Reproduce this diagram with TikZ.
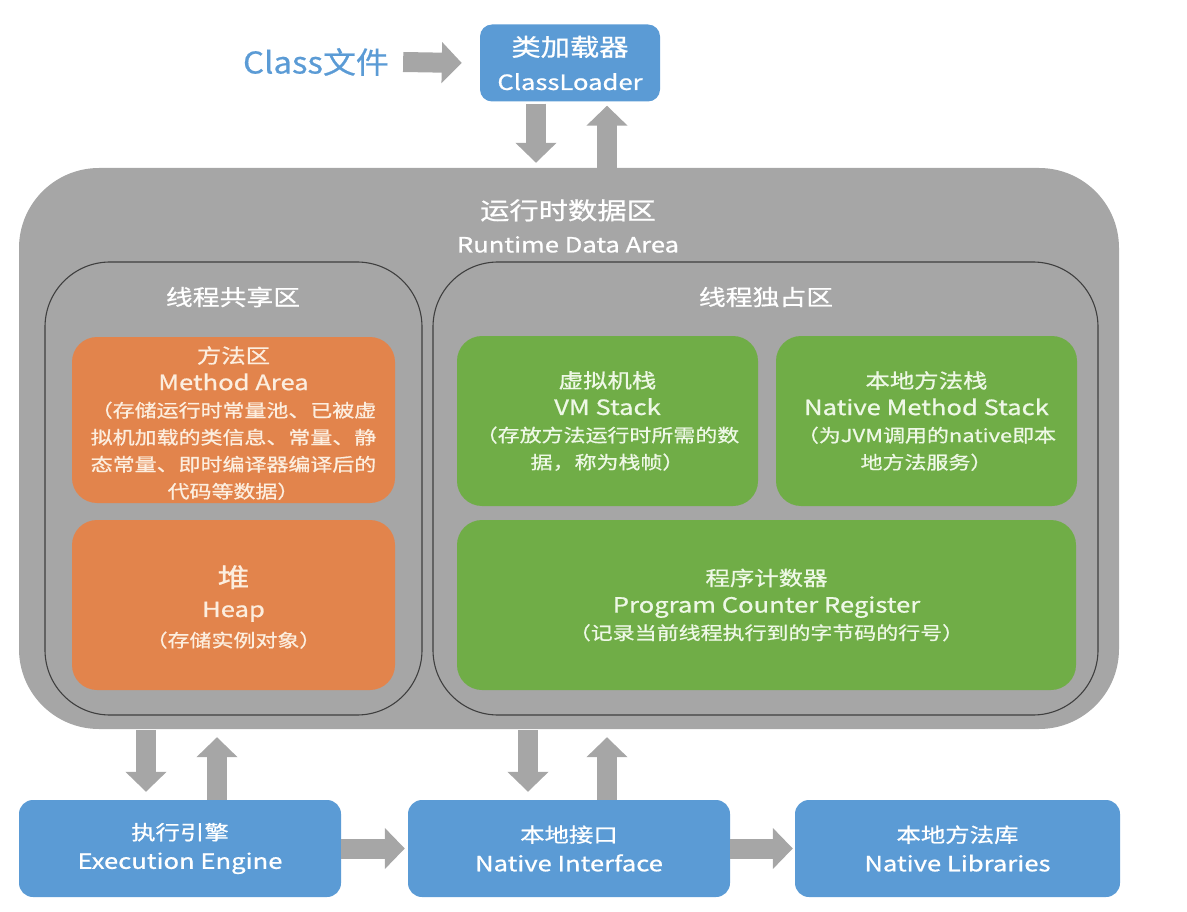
\documentclass[tikz,border=0pt]{standalone}
\usepackage{fontspec}
\setmainfont{Noto Sans CJK SC}
\newfontfamily\bxfont[FakeStretch=1.22,FakeBold=0.8]{Noto Sans CJK SC}
\newfontfamily\clsfont[FakeStretch=1.1,FakeBold=0.6]{Noto Sans CJK SC}
\usetikzlibrary{arrows.meta,calc}
\newcommand\fz[2]{\fontsize{#1}{#2}\selectfont}
\definecolor{rdagrey}{HTML}{A6A6A6}
\definecolor{arrowgrey}{HTML}{A6A6A6}
\definecolor{zoneline}{HTML}{3F3F3F}
\definecolor{memorange}{HTML}{E2844C}
\definecolor{memtext}{HTML}{FCEEDF}
\definecolor{thrgreen}{HTML}{70AD47}
\definecolor{thrtext}{HTML}{EEF8E6}
\definecolor{ioblue}{HTML}{5B9BD5}
\definecolor{clsblue}{HTML}{5B9BD5}
\tikzset{
  rdabox/.style={fill=rdagrey, rounded corners=80pt, inner sep=0pt},
  zone/.style={draw=zoneline, line width=1.1pt, rounded corners=65pt, inner sep=0pt},
  mem/.style={fill=memorange, rounded corners=25pt, text=memtext, align=center, inner sep=0pt},
  thr/.style={fill=thrgreen, rounded corners=25pt, text=thrtext, align=center, inner sep=0pt},
  io/.style={fill=ioblue, rounded corners=14pt, text=white, align=center, inner sep=0pt},
  ttl/.style={text=white, align=center, inner sep=0pt},
  blk/.style={draw=arrowgrey, line width=20pt, -{Triangle[length=20pt,width=40pt]}},
}
\begin{document}
\begin{tikzpicture}[x=1pt,y=-1pt]
\useasboundingbox (0,0) rectangle (1187,912);
% runtime data area
\node[rdabox, minimum width=1100pt, minimum height=561pt] (rda) at (569,448.5) {};
\node[ttl, font=\bxfont\fz{21}{33}] (rdat) at (568,226) {{\fz{24}{24}运行时数据区}\\Runtime Data Area};
\node[zone, minimum width=377pt, minimum height=453pt] (shared) at (233.5,488.5) {};
\node[zone, minimum width=665pt, minimum height=453pt] (private) at (765.5,488.5) {};
\node[ttl, font=\bxfont\fz{22}{28}] (sharedt) at (233,297) {线程共享区};
\node[ttl, font=\bxfont\fz{22}{28}] (privatet) at (766,297) {线程独占区};
% shared
\node[mem, minimum width=323pt, minimum height=166pt] (ma) at (233.5,420) {};
\node[ttl, text=memtext, font=\bxfont\fz{18}{27}] (mat) at (233.5,423) {{\fz{20}{20}方法区}\\{\fz{21}{21}Method Area}\\（存储运行时常量池、已被虚\\拟机加载的类信息、常量、静\\态常量、即时编译器编译后的\\代码等数据）};
\node[mem, minimum width=323pt, minimum height=170pt] (heap) at (233.5,605) {};
\node[ttl, text=memtext, font=\bxfont\fz{18}{30}] (heapt) at (233.5,607) {{\fz{26}{26}堆}\\{\fz{21}{21}Heap}\\（存储实例对象）};
% private
\node[thr, font=\bxfont\fz{18}{27}, minimum width=301pt, minimum height=170pt] (vm) at (607.5,421) {{\fz{20}{20}虚拟机栈}\\{\fz{21}{21}VM Stack}\\（存放方法运行时所需的数\\据，称为栈帧）};
\node[thr, font=\bxfont\fz{18}{27}, minimum width=301pt, minimum height=170pt] (nms) at (926.5,421) {{\fz{20}{20}本地方法栈}\\{\fz{21}{21}Native Method Stack}\\（为JVM调用的native即本\\地方法服务）};
\node[thr, font=\bxfont\fz{18}{27}, minimum width=619pt, minimum height=170pt] (pc) at (766.5,605) {{\fz{20}{20}程序计数器}\\{\fz{21}{21}Program Counter Register}\\（记录当前线程执行到的字节码的行号）};
% top
\node[text=clsblue, inner sep=0pt, font=\clsfont\fz{30}{34}] (cls) at (316,62) {Class文件};
\node[io, font=\bxfont\fz{21}{34}, rounded corners=12pt, minimum width=180pt, minimum height=77pt] (loader) at (570,63) {{\fz{24}{24}类加载器}\\ClassLoader};
% bottom
\node[io, font=\bxfont\fz{21}{29}, minimum width=322pt, minimum height=97pt] (ee) at (180,848.5) {{\fz{20}{20}执行引擎}\\Execution Engine};
\node[io, font=\bxfont\fz{21}{29}, minimum width=322pt, minimum height=97pt] (ni) at (569,848.5) {{\fz{20}{20}本地接口}\\Native Interface};
\node[io, font=\bxfont\fz{21}{29}, minimum width=325pt, minimum height=97pt] (nl) at (957.5,848.5) {{\fz{20}{20}本地方法库}\\Native Libraries};
% arrows
\draw[blk] ($(cls.east)+(14,0)$) -- ($(loader.west)+(-18,0)$);
\draw[blk] ($(loader.south)+(-34,2)$) -- ($(loader.south |- rda.north)+(-34,-5)$);
\draw[blk] ($(loader.south |- rda.north)+(37,0)$) -- ($(loader.south)+(37,4)$);
\draw[blk] ($(ee.north |- rda.south)+(-34,1)$) -- ($(ee.north)+(-34,-8)$);
\draw[blk] ($(ee.north)+(37,0)$) -- ($(ee.north |- rda.south)+(37,8)$);
\draw[blk] ($(ni.north |- rda.south)+(-41,1)$) -- ($(ni.north)+(-41,-8)$);
\draw[blk] ($(ni.north)+(38,0)$) -- ($(ni.north |- rda.south)+(38,8)$);
\draw[blk] (ee.east) -- ($(ni.west)+(-3,0)$);
\draw[blk] (ni.east) -- ($(nl.west)+(-2,0)$);
\end{tikzpicture}
\end{document}
